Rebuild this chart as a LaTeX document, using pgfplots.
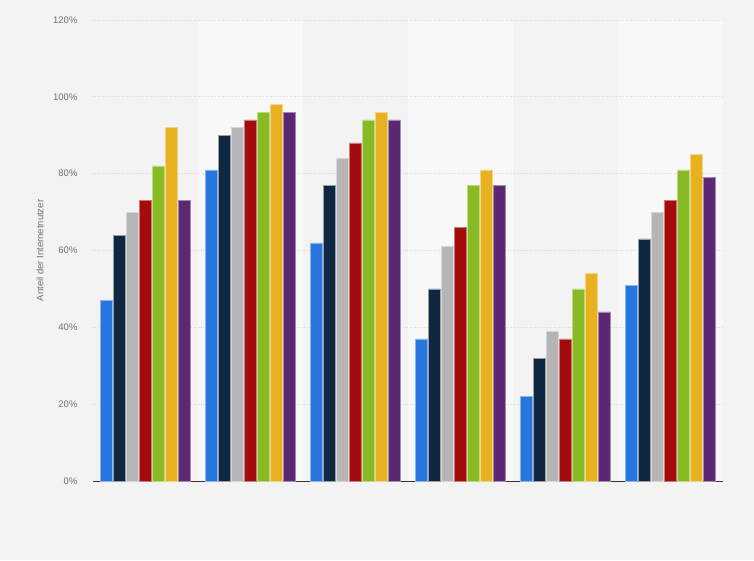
\documentclass[border=0pt]{standalone}
\usepackage{pgfplots}
\pgfplotsset{compat=1.18}
\usepackage{fontspec}
\setmainfont{Liberation Sans}
\definecolor{bg}{HTML}{F3F3F3}
\definecolor{band}{HTML}{F8F8F8}
\definecolor{cA}{HTML}{2876DD}
\definecolor{cB}{HTML}{0F2741}
\definecolor{cC}{HTML}{B5B5B5}
\definecolor{cD}{HTML}{A30B0C}
\definecolor{cE}{HTML}{88BB23}
\definecolor{cF}{HTML}{E8B120}
\definecolor{cG}{HTML}{5C2874}
\definecolor{txt}{HTML}{707070}
\begin{document}
\begin{tikzpicture}
\fill[bg] (0,0) rectangle (754pt,560pt);
\fill[band] (198pt,79pt) rectangle (303pt,540pt);
\fill[band] (408pt,79pt) rectangle (513pt,540pt);
\fill[band] (618pt,79pt) rectangle (723pt,540pt);
\begin{axis}[
  at={(93pt,79pt)}, anchor=south west,
  scale only axis, width=630pt, height=461pt,
  xmin=-0.5, xmax=5.5, ymin=0, ymax=120,
  axis x line*=bottom, axis y line*=left,
  x axis line style={draw=black!80, line width=0.8pt, -},
  y axis line style={draw=none},
  xtick=\empty,
  ytick={0,20,40,60,80,100,120},
  yticklabels={0\%,20\%,40\%,60\%,80\%,100\%,120\%},
  ymajorgrids, grid style={dotted, draw=black!15, line width=0.7pt},
  major tick length=0pt,
  yticklabel style={font=\fontsize{9.5}{11}\selectfont, text=txt, xshift=-12pt},
  every axis y label/.style={at={(rel axis cs:0,0.5)}, rotate=90, anchor=center, yshift=53pt, font=\fontsize{9.5}{11}\selectfont, text=txt},
  ylabel={Anteil der Internetnutzer},
  /pgf/number format/assume math mode=true,
  ybar, bar width=0.113,
  clip=false,
]
\addplot[fill=cA, draw=cA!55!white, line width=0.4pt, bar shift=-0.372] coordinates {(0,47) (1,81) (2,62) (3,37) (4,22) (5,51)};
\addplot[fill=cB, draw=cB!45!white, line width=0.4pt, bar shift=-0.248] coordinates {(0,64) (1,90) (2,77) (3,50) (4,32) (5,63)};
\addplot[fill=cC, draw=cC!55!white, line width=0.4pt, bar shift=-0.124] coordinates {(0,70) (1,92) (2,84) (3,61) (4,39) (5,70)};
\addplot[fill=cD, draw=cD!55!white, line width=0.4pt, bar shift=0] coordinates {(0,73) (1,94) (2,88) (3,66) (4,37) (5,73)};
\addplot[fill=cE, draw=cE!55!white, line width=0.4pt, bar shift=0.124] coordinates {(0,82) (1,96) (2,94) (3,77) (4,50) (5,81)};
\addplot[fill=cF, draw=cF!55!white, line width=0.4pt, bar shift=0.248] coordinates {(0,92) (1,98) (2,96) (3,81) (4,54) (5,85)};
\addplot[fill=cG, draw=cG!55!white, line width=0.4pt, bar shift=0.372] coordinates {(0,73) (1,96) (2,94) (3,77) (4,44) (5,79)};
\end{axis}
\end{tikzpicture}
\end{document}
